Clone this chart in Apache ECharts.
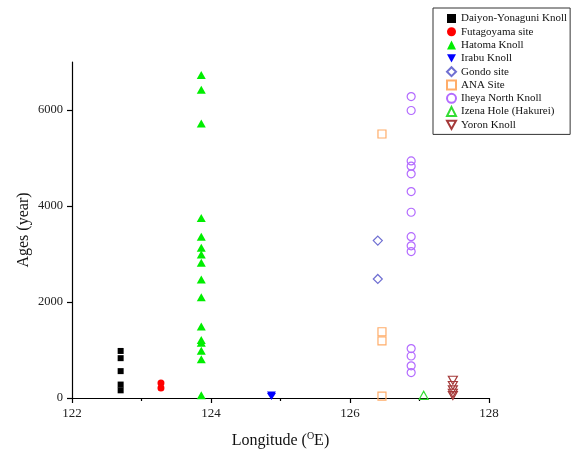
<!DOCTYPE html>
<html>
<head>
<meta charset="utf-8">
<script src="https://cdn.jsdelivr.net/npm/echarts@6/dist/echarts.min.js"></script>
<style>
  html, body { margin: 0; padding: 0; background: #fff; }
  #main { width: 572px; height: 458px; }
</style>
</head>
<body>
<div id="main"></div>
<script>
// site names and longitude of each site (deg E)
const siteNames = ['Daiyon-Yonaguni Knoll', 'Futagoyama site', 'Hatoma Knoll', 'Irabu Knoll', 'Gondo site',
  'ANA Site', 'Iheya North Knoll', 'Izena Hole (Hakurei)', 'Yoron Knoll'];
const siteLon = [122.7, 123.28, 123.86, 124.87, 126.4, 126.46, 126.88, 127.06, 127.48];

// ages (year) per site
const daiyonAges = [980, 830, 560, 280, 160];
const futagoyamaAges = [310, 210];
const hatomaAges = [6730, 6420, 5720, 3750, 3360, 3130, 2990, 2820, 2470, 2100, 1490, 1210, 1150, 985, 805, 55];
const irabuAges = [60, 30];
const gondoAges = [3280, 2480];
const anaAges = [5500, 1380, 1190, 40];
const iheyaAges = [6280, 5990, 4940, 4830, 4670, 4300, 3870, 3360, 3170, 3050, 1030, 875, 670, 530];
const izenaAges = [55];
const yoronAges = [370, 260, 170, 100, 50];

const xTicks = [122, 124, 126, 128];
const yTicks = [0, 2000, 4000, 6000];

const allAges = [daiyonAges, futagoyamaAges, hatomaAges, irabuAges, gondoAges, anaAges, iheyaAges, izenaAges, yoronAges];

const downTri = 'path://M0,0L10,0L5,9Z';

// marker styles per site
const styles = [
  { symbol: 'rect', size: 6, color: '#000000', filled: true },
  { symbol: 'circle', size: 7, color: '#ff0000', filled: true },
  { symbol: 'triangle', size: [9, 8], color: '#00ee00', filled: true },
  { symbol: downTri, size: [9, 7], color: '#0000ff', filled: true },
  { symbol: 'diamond', size: 9, color: '#6f6fd2', filled: false },
  { symbol: 'rect', size: 8, color: '#ffad6a', filled: false },
  { symbol: 'circle', size: 8, color: '#b36bff', filled: false },
  { symbol: 'triangle', size: [9, 8], color: '#33dd33', filled: false },
  { symbol: downTri, size: [9, 8], color: '#a53a3a', filled: false }
];

const serif = '"Liberation Serif", "DejaVu Serif", serif';

const myChart = echarts.init(document.getElementById('main'));

const series = siteNames.map(function (name, i) {
  const s = styles[i];
  return {
    name: name,
    type: 'scatter',
    symbol: s.symbol,
    symbolSize: s.size,
    data: allAges[i].map(function (a) { return [siteLon[i], a]; }),
    itemStyle: s.filled
      ? { color: s.color, opacity: 1 }
      : { color: 'rgba(255,255,255,0)', borderColor: s.color, borderWidth: 1.2, opacity: 1 },
    emphasis: { disabled: true }
  };
});

const option = {
  animation: false,
  backgroundColor: '#fff',
  grid: { left: 72, right: 83, top: 62, bottom: 60 },
  legend: {
    orient: 'vertical',
    left: 433,
    top: 8,
    padding: [5, 3, 4, 13],
    backgroundColor: '#fff',
    borderColor: '#333',
    borderWidth: 1,
    itemWidth: 9,
    itemHeight: 9,
    itemGap: 2.3,
    textStyle: { fontFamily: serif, fontSize: 11, color: '#111' },
    data: siteNames
  },
  xAxis: {
    type: 'value',
    min: 122,
    max: 128,
    interval: 2,
    name: 'Longitude ({sup|O}E)',
    nameLocation: 'middle',
    nameGap: 33,
    nameMoveOverlap: false,
    nameTextStyle: {
      fontFamily: serif, fontSize: 16, color: '#111',
      rich: { sup: { fontFamily: serif, fontSize: 10, color: '#111', padding: [0, 0, 9, 0] } }
    },
    splitLine: { show: false },
    axisLine: { onZero: false, lineStyle: { color: '#000', width: 1.2 } },
    axisTick: { length: 5, lineStyle: { color: '#000', width: 1.2 } },
    minorTick: { show: true, splitNumber: 2, length: 3, lineStyle: { color: '#000', width: 1.2 } },
    axisLabel: {
      margin: 9, fontFamily: serif, fontSize: 13, color: '#222',
      customValues: xTicks
    }
  },
  yAxis: {
    type: 'value',
    min: 0,
    max: 7000,
    interval: 1000,
    name: 'Ages (year)',
    nameLocation: 'middle',
    nameGap: 40,
    nameMoveOverlap: false,
    nameTextStyle: { fontFamily: serif, fontSize: 16, color: '#111' },
    splitLine: { show: false },
    axisLine: { show: true, onZero: false, lineStyle: { color: '#000', width: 1.2 } },
    axisTick: { length: 5, customValues: yTicks, lineStyle: { color: '#000', width: 1.2 } },
    axisLabel: {
      margin: 9, fontFamily: serif, fontSize: 12.5, color: '#222',
      customValues: yTicks,
      formatter: function (v) { return String(v); }
    }
  },
  series: series
};

myChart.setOption(option);
</script>
</body>
</html>
